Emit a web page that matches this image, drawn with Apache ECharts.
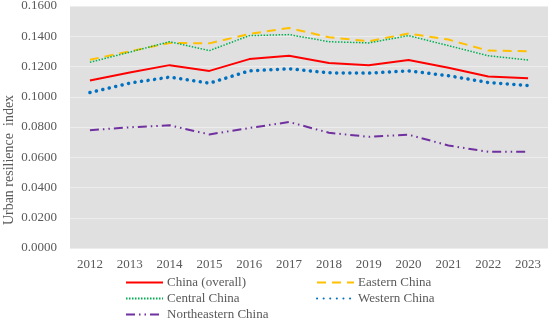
<!DOCTYPE html>
<html><head><meta charset="utf-8">
<script src="https://cdn.jsdelivr.net/npm/echarts@6/dist/echarts.min.js"></script>
<style>html,body{margin:0;padding:0;background:#fff}#c{width:550px;height:321px}</style>
</head><body><div id="c"></div>
<script>
const years = ['2012','2013','2014','2015','2016','2017','2018','2019','2020','2021','2022','2023'];
const china = [0.1108,0.1160,0.1209,0.1171,0.1249,0.1271,0.1223,0.1209,0.1243,0.1192,0.1134,0.1123];
const eastern = [0.1245,0.1300,0.1356,0.1353,0.1415,0.1455,0.1393,0.1367,0.1418,0.1378,0.1305,0.1301];
const central = [0.1228,0.1295,0.1364,0.1305,0.1404,0.1411,0.1364,0.1356,0.1404,0.1338,0.1271,0.1243];
const western = [0.1028,0.1090,0.1130,0.1090,0.1171,0.1185,0.1158,0.1156,0.1171,0.1139,0.1094,0.1074];
const northeastern = [0.0779,0.0798,0.0811,0.0751,0.0793,0.0833,0.0762,0.0735,0.0749,0.0678,0.0636,0.0636];
const seriesNames = ['China (overall)','Eastern China','Central China','Western China','Northeastern China'];
const yAxisTitle = 'Urban resilience  index';

const font = 'Liberation Serif';
const txt = {fontFamily: font, fontSize: 13, color: '#595959'};
const chart = echarts.init(document.getElementById('c'));
function mk(name, data, color, width, dash, cap){
  return {name, type:'line', data, symbol:'none', smooth:false,
    lineStyle:{color, width, type: dash, cap: cap||'butt'}, itemStyle:{color}};
}
const legendPos = [[125,276],[316,276],[125,292],[316,292],[125,308]];
const legends = seriesNames.map((n,i)=>({
  left: legendPos[i][0], top: legendPos[i][1], padding:0, itemWidth:37, itemHeight:14, itemGap:0,
  itemStyle:{opacity:0},
  textStyle:Object.assign({}, txt, {padding:[0,0,0,-1]}), data:[n]
}));
chart.setOption({
  animation:false,
  backgroundColor:'#fff',
  grid:{left:70, right:2, top:6, bottom:73, show:true, backgroundColor:'#E0E0E0', borderWidth:0,
    containLabel:false, outerBoundsMode:'none'},
  graphic:[{type:'text', x:9, y:160, rotation:Math.PI/2,
    style:{text:yAxisTitle, fontFamily:font, fontSize:14, fill:'#595959', align:'center', verticalAlign:'middle'}}],
  xAxis:{type:'category', data: years, boundaryGap:true,
    axisLine:{show:false}, axisTick:{show:false}, splitLine:{show:false},
    axisLabel:Object.assign({margin:10}, txt)},
  yAxis:{type:'value', min:0, max:0.16, interval:0.02,
    axisLine:{show:false}, axisTick:{show:false},
    splitLine:{lineStyle:{color:'#EDEDED', width:1}},
    axisLabel:Object.assign({margin:13, formatter:v=>v.toFixed(4)}, txt)},
  legend: legends,
  series:[
    mk(seriesNames[0], china, '#FF0000', 2, 'solid'),
    mk(seriesNames[1], eastern, '#FFC000', 2, [9,6]),
    mk(seriesNames[2], central, '#00B050', 1.5, [1.5,1.5]),
    mk(seriesNames[3], western, '#0070C0', 3.5, [0.1,6.5], 'round'),
    mk(seriesNames[4], northeastern, '#7030A0', 2, [9,4,1.5,4,1.5,4])
  ]
});
</script></body></html>
